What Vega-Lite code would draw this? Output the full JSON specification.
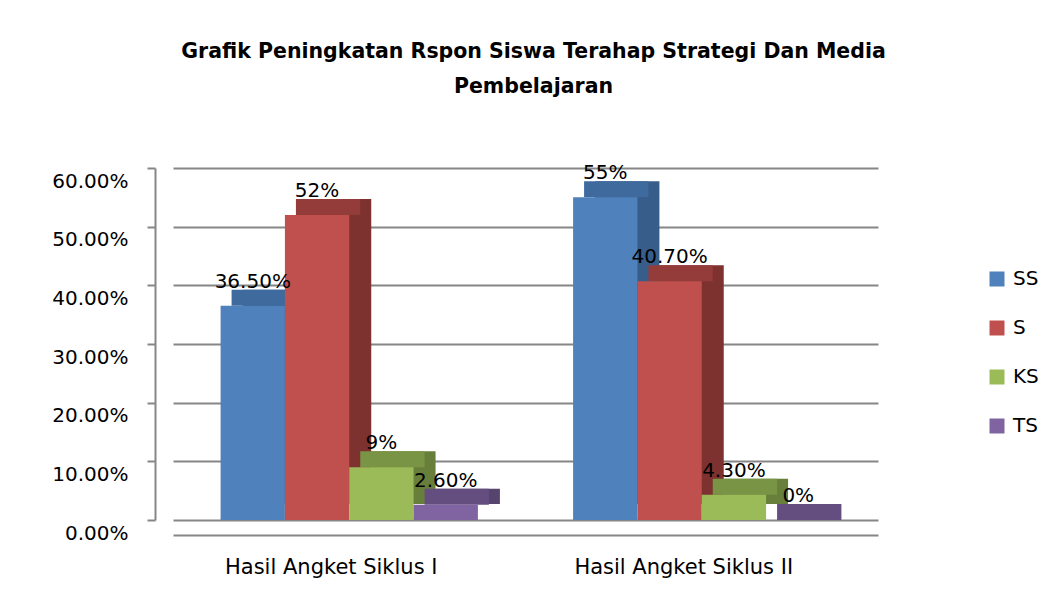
{
  "$schema": "https://vega.github.io/schema/vega-lite/v6.json",
  "width": 705,
  "height": 352,
  "autosize": {"type": "none"},
  "padding": {"left": 173, "top": 168, "right": 171, "bottom": 77},
  "background": "white",
  "config": {"font": "DejaVu Sans", "view": {"stroke": null}},
  "title": {
    "text": ["Grafik Peningkatan Rspon Siswa Terahap Strategi Dan Media", "Pembelajaran"],
    "fontSize": 20.5,
    "fontWeight": "bold",
    "font": "DejaVu Sans",
    "lineHeight": 35,
    "offset": 66,
    "dx": 8,
    "color": "black",
    "anchor": "middle"
  },
  "data": {
    "values": [
      {"siklus": "Hasil Angket Siklus I", "kategori": "SS", "nilai": 0.365, "label": "36.50%"},
      {"siklus": "Hasil Angket Siklus I", "kategori": "S", "nilai": 0.52, "label": "52%"},
      {"siklus": "Hasil Angket Siklus I", "kategori": "KS", "nilai": 0.09, "label": "9%"},
      {"siklus": "Hasil Angket Siklus I", "kategori": "TS", "nilai": 0.026, "label": "2.60%"},
      {"siklus": "Hasil Angket Siklus II", "kategori": "SS", "nilai": 0.55, "label": "55%"},
      {"siklus": "Hasil Angket Siklus II", "kategori": "S", "nilai": 0.407, "label": "40.70%"},
      {"siklus": "Hasil Angket Siklus II", "kategori": "KS", "nilai": 0.043, "label": "4.30%"},
      {"siklus": "Hasil Angket Siklus II", "kategori": "TS", "nilai": 0.0, "label": "0%"}
    ]
  },
  "encoding": {
    "x": {
      "field": "siklus",
      "type": "nominal",
      "sort": ["Hasil Angket Siklus I", "Hasil Angket Siklus II"],
      "scale": {"paddingInner": 0.27, "paddingOuter": 0.135},
      "title": null,
      "axis": {
        "offset": 15,
        "labelAngle": 0,
        "labelFontSize": 21,
        "labelColor": "black",
        "labelOffset": -18,
        "labelPadding": 21,
        "labelLimit": 500,
        "ticks": false,
        "domainColor": "#868686",
        "domainWidth": 2
      }
    },
    "y": {
      "field": "nilai",
      "type": "quantitative",
      "scale": {"domain": [0, 0.6], "nice": false},
      "title": null,
      "axis": {
        "format": ".2%",
        "values": [0, 0.1, 0.2, 0.3, 0.4, 0.5, 0.6],
        "offset": 18,
        "labelFontSize": 20,
        "labelColor": "black",
        "labelOffset": 13,
        "labelPadding": 19,
        "tickSize": 8,
        "tickColor": "#868686",
        "tickWidth": 2,
        "domainColor": "#868686",
        "domainWidth": 2,
        "grid": true,
        "gridColor": "#868686",
        "gridWidth": 2
      }
    }
  },
  "layer": [
    {
      "mark": {"type": "bar", "yOffset": -16, "y2Offset": -8},
      "encoding": {
        "xOffset": {
          "field": "kategori",
          "type": "nominal",
          "sort": ["SS", "S", "KS", "TS"],
          "scale": {"paddingInner": 0, "paddingOuter": 0, "range": [22, 279.325]}
        },
        "color": {
          "field": "kategori",
          "type": "nominal",
          "scale": {"domain": ["SS", "S", "KS", "TS"], "range": ["#375D8A", "#7D3230", "#687F3B", "#56446E"]},
          "legend": null
        }
      }
    },
    {
      "mark": {"type": "bar", "yOffset": -16, "y2Offset": 0},
      "encoding": {
        "xOffset": {
          "field": "kategori",
          "type": "nominal",
          "sort": ["SS", "S", "KS", "TS"],
          "scale": {"paddingInner": 0, "paddingOuter": 0, "range": [11, 268.325]}
        },
        "y2": {"field": "nilai"},
        "color": {
          "field": "kategori",
          "type": "nominal",
          "scale": {"domain": ["SS", "S", "KS", "TS"], "range": ["#3F6A9E", "#943C3A", "#7A9446", "#644E80"]},
          "legend": null
        }
      }
    },
    {
      "mark": {"type": "bar"},
      "encoding": {
        "xOffset": {
          "field": "kategori",
          "type": "nominal",
          "sort": ["SS", "S", "KS", "TS"],
          "scale": {"paddingInner": 0, "paddingOuter": 0}
        },
        "color": {
          "field": "kategori",
          "type": "nominal",
          "scale": {"domain": ["SS", "S", "KS", "TS"], "range": ["#4F81BD", "#C0504D", "#9BBB59", "#8064A2"]},
          "legend": {
            "orient": "none",
            "legendX": 814,
            "legendY": 101,
            "title": null,
            "symbolType": "square",
            "symbolSize": 225,
            "symbolStrokeWidth": 0,
            "labelFontSize": 20,
            "labelColor": "black",
            "labelOffset": 6,
            "rowPadding": 29
          }
        }
      }
    },
    {
      "mark": {"type": "text", "baseline": "bottom", "dy": -14, "fontSize": 20, "color": "black"},
      "encoding": {
        "xOffset": {
          "field": "kategori",
          "type": "nominal",
          "sort": ["SS", "S", "KS", "TS"],
          "scale": {"type": "band", "paddingInner": 0, "paddingOuter": 0}
        },
        "text": {"field": "label", "type": "nominal"}
      }
    }
  ],
  "resolve": {"scale": {"color": "independent", "xOffset": "independent"}}
}
